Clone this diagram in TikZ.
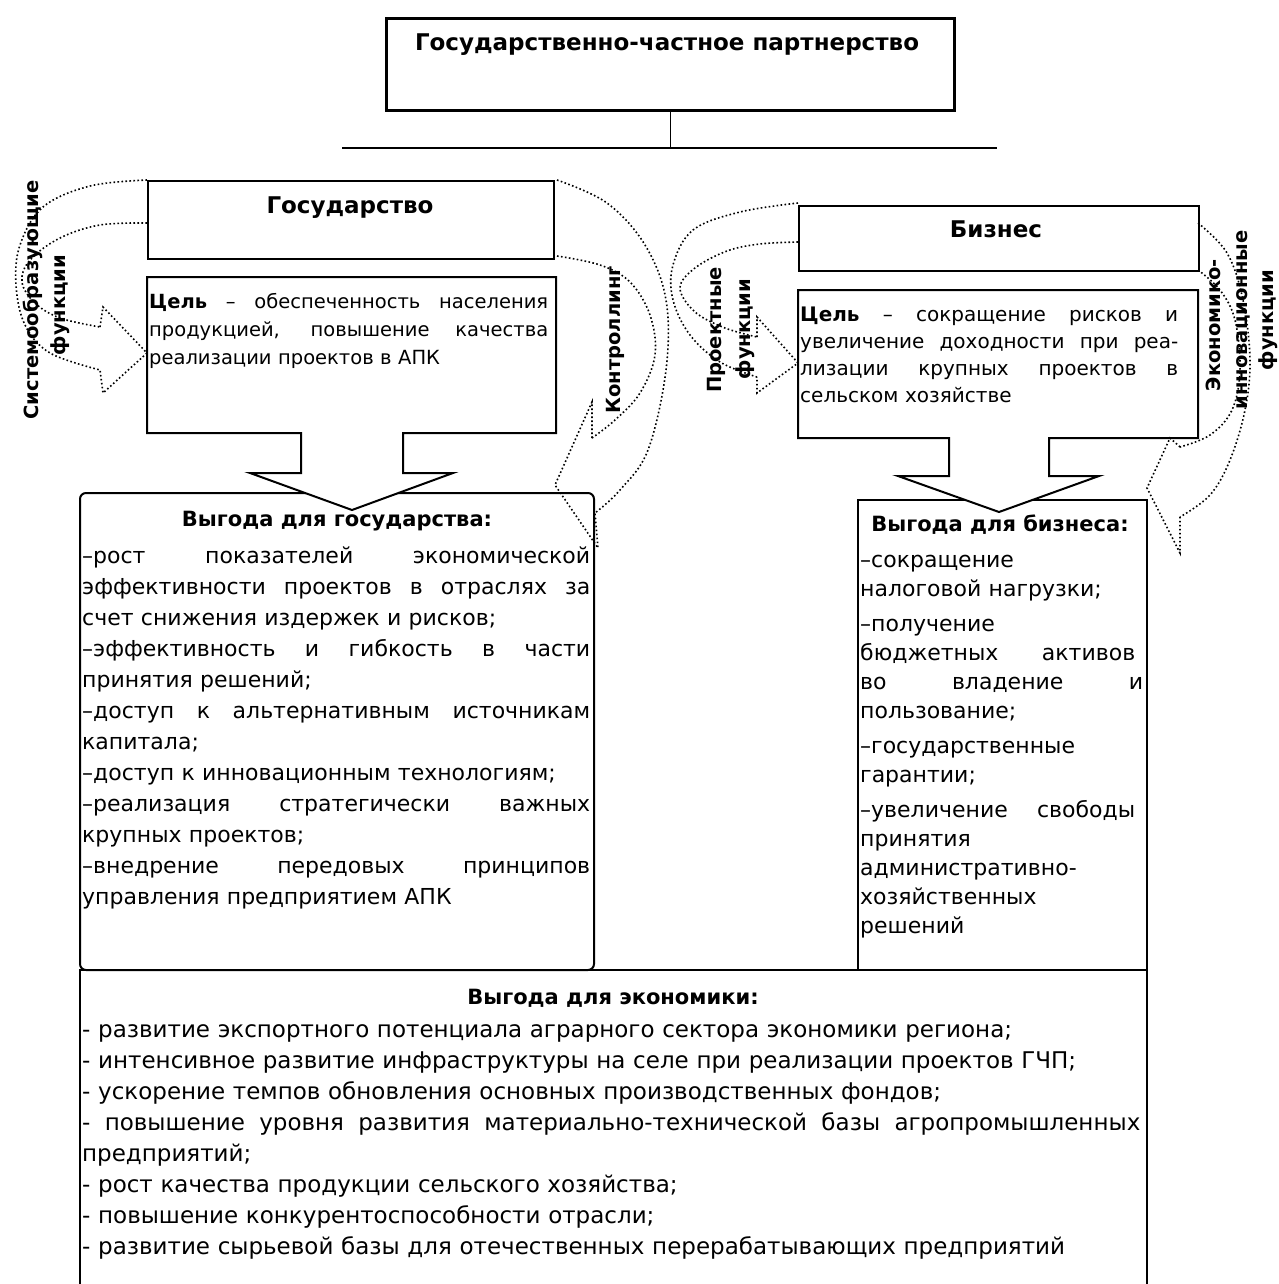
\documentclass[tikz,border=0pt]{standalone}
\usepackage{fontspec}
\setmainfont{DejaVu Sans}
\newcommand\jl[2]{\makebox[#1][s]{\spaceskip=\fontdimen2\font plus 1fil\relax #2}}
\begin{document}
\begin{tikzpicture}[x=1pt,y=-1pt,
  box/.style={draw,line width=2pt},
  dots/.style={line width=1.6pt,dash pattern=on 1.6pt off 2.4pt},
  ttl/.style={font=\bfseries\fontsize{21}{25}\selectfont,inner sep=0pt},
  bigttl/.style={font=\bfseries\fontsize{23}{27}\selectfont,inner sep=0pt},
  vlab/.style={font=\bfseries\fontsize{19.5}{24}\selectfont,inner sep=0pt,rotate=90},
  body/.style={font=\fontsize{22}{31}\selectfont,inner sep=0pt,align=left,anchor=base west}]
\useasboundingbox (0,0) rectangle (1278,1284);
\fill[white] (0,0) rectangle (1278,1284);
% top
\node[box,line width=3pt,minimum width=568pt,minimum height=92pt,anchor=north west] (gchp) at (385,17) {};
\node[bigttl] (gchpT) at (667,45) {Государственно-частное партнерство};
\coordinate (barL) at (342,148);
\coordinate (barR) at (997,148);
\draw[line width=2pt] (barL) -- (barR);
\draw[line width=1pt] (gchp.south) -- (gchp.south |- barL);
% state
\node[box,minimum width=406pt,minimum height=78pt,anchor=north west] (gos) at (147,180) {};
\node[bigttl] (gosT) at (350,208) {Государство};
\draw[box,rounded corners=6pt] (80,493) rectangle (594,970);
\draw[box,fill=white] (147,277) -- (556,277) -- (556,433) -- (403,433) -- (403,473) -- (453,473) -- (352,510) -- (250,473) -- (301,473) -- (301,433) -- (147,433) -- cycle;
\node[body,text width=400pt,font=\fontsize{19.5}{28}\selectfont] (celL) at (149,308) {%
\jl{399pt}{\textbf{Цель} – обеспеченность населения}\\
\jl{399pt}{продукцией, повышение качества}\\
реализации проектов в АПК};
\node[ttl] (vgT) at (337,521) {Выгода для государства:};
\node[body,text width=508pt] (vgL) at (82,563) {%
\jl{508pt}{–рост показателей экономической}\\
\jl{508pt}{эффективности проектов в отраслях за}\\
счет снижения издержек и рисков;\\
\jl{508pt}{–эффективность и гибкость в части}\\
принятия решений;\\
\jl{508pt}{–доступ к альтернативным источникам}\\
капитала;\\
–доступ к инновационным технологиям;\\
\jl{508pt}{–реализация стратегически важных}\\
крупных проектов;\\
\jl{508pt}{–внедрение передовых принципов}\\
управления предприятием АПК};
% business
\node[box,minimum width=400pt,minimum height=65pt,anchor=north west] (biz) at (798,205) {};
\node[bigttl] (bizT) at (996,229) {Бизнес};
\draw[box] (858,500) rectangle (1147,970);
\draw[box,fill=white] (798,290) -- (1198,290) -- (1198,438) -- (1049,438) -- (1049,476) -- (1099,476) -- (999,512) -- (898,476) -- (949,476) -- (949,438) -- (798,438) -- cycle;
\node[body,text width=378pt,font=\fontsize{20}{27}\selectfont] (celR) at (800,321) {%
\jl{378pt}{\textbf{Цель} – сокращение рисков и}\\
\jl{378pt}{увеличение доходности при реа-}\\
\jl{378pt}{лизации крупных проектов в}\\
сельском хозяйстве};
\node[ttl] (vbT) at (1000,525) {Выгода для бизнеса:};
\node[body,text width=283pt,font=\fontsize{22}{29}\selectfont] (vbL) at (860,567) {%
–сокращение\\
налоговой нагрузки;\\[6pt]
–получение\\
\jl{275pt}{бюджетных активов}\\
\jl{283pt}{во владение и}\\
пользование;\\[6pt]
–государственные\\
гарантии;\\[6pt]
\jl{275pt}{–увеличение свободы}\\
принятия\\
административно-\\
хозяйственных\\
решений};
% economy
\draw[box] (80,1290) -- (80,970) -- (1147,970) -- (1147,1290);
\node[ttl] (veT) at (613,998) {Выгода для экономики:};
\node[body,text width=1060pt,font=\fontsize{23}{31}\selectfont] (veL) at (82,1037) {%
- развитие экспортного потенциала аграрного сектора экономики региона;\\
- интенсивное развитие инфраструктуры на селе при реализации проектов ГЧП;\\
- ускорение темпов обновления основных производственных фондов;\\
\jl{1058pt}{- повышение уровня развития материально-технической базы агропромышленных}\\
предприятий;\\
- рост качества продукции сельского хозяйства;\\
- повышение конкурентоспособности отрасли;\\
- развитие сырьевой базы для отечественных перерабатывающих предприятий};
% curved arrows
\draw[dots] plot[smooth,tension=0.6] coordinates {(147,180) (90,186) (43,207) (20,245) (16,285) (25,325) (50,353) (100,370)};
\draw[dots] plot[smooth,tension=0.6] coordinates {(147,223) (100,225) (60,238) (30,260) (22,282) (35,303) (60,318) (100,327)};
\draw[dots] (100,327) -- (103,307) -- (147,353) -- (103,393) -- (100,370);
\draw[dots] plot[smooth,tension=0.6] coordinates {(557,180) (607,203) (645,245) (666,300) (666,370) (648,450) (620,490) (595,513)};
\draw[dots] plot[smooth,tension=0.6] coordinates {(557,256) (600,265) (630,282) (650,315) (655,355) (640,393) (615,420) (592,438)};
\draw[dots] (592,438) -- (592,402) -- (555,485) -- (598,548) -- (595,513);
\draw[dots] plot[smooth,tension=0.6] coordinates {(798,203) (740,212) (693,230) (673,265) (673,300) (690,335) (720,362) (757,377)};
\draw[dots] plot[smooth,tension=0.6] coordinates {(798,242) (760,244) (727,251) (695,268) (680,288) (695,312) (725,328) (757,337)};
\draw[dots] (757,337) -- (757,317) -- (798,363) -- (757,393) -- (757,377);
\draw[dots] plot[smooth,tension=0.6] coordinates {(1198,223) (1227,253) (1243,300) (1250,360) (1245,410) (1230,460) (1210,495) (1180,517)};
\draw[dots] plot[smooth,tension=0.6] coordinates {(1198,270) (1220,290) (1235,320) (1240,370) (1232,410) (1210,435) (1180,447)};
\draw[dots] (1180,447) -- (1170,438) -- (1147,488) -- (1180,553) -- (1180,517);
% vertical labels
\node[vlab] (lsys) at (33,300) {Системообразующие};
\node[vlab] (lsysf) at (60,305) {функции};
\node[vlab] (lkon) at (615,340) {Контроллинг};
\node[vlab] (lpro) at (716,330) {Проектные};
\node[vlab] (lprof) at (745,329) {функции};
\node[vlab] (leko) at (1213,325) {Экономико-};
\node[vlab] (lekoi) at (1243,320) {инновационные};
\node[vlab] (lekof) at (1268,320) {функции};
\end{tikzpicture}
\end{document}
